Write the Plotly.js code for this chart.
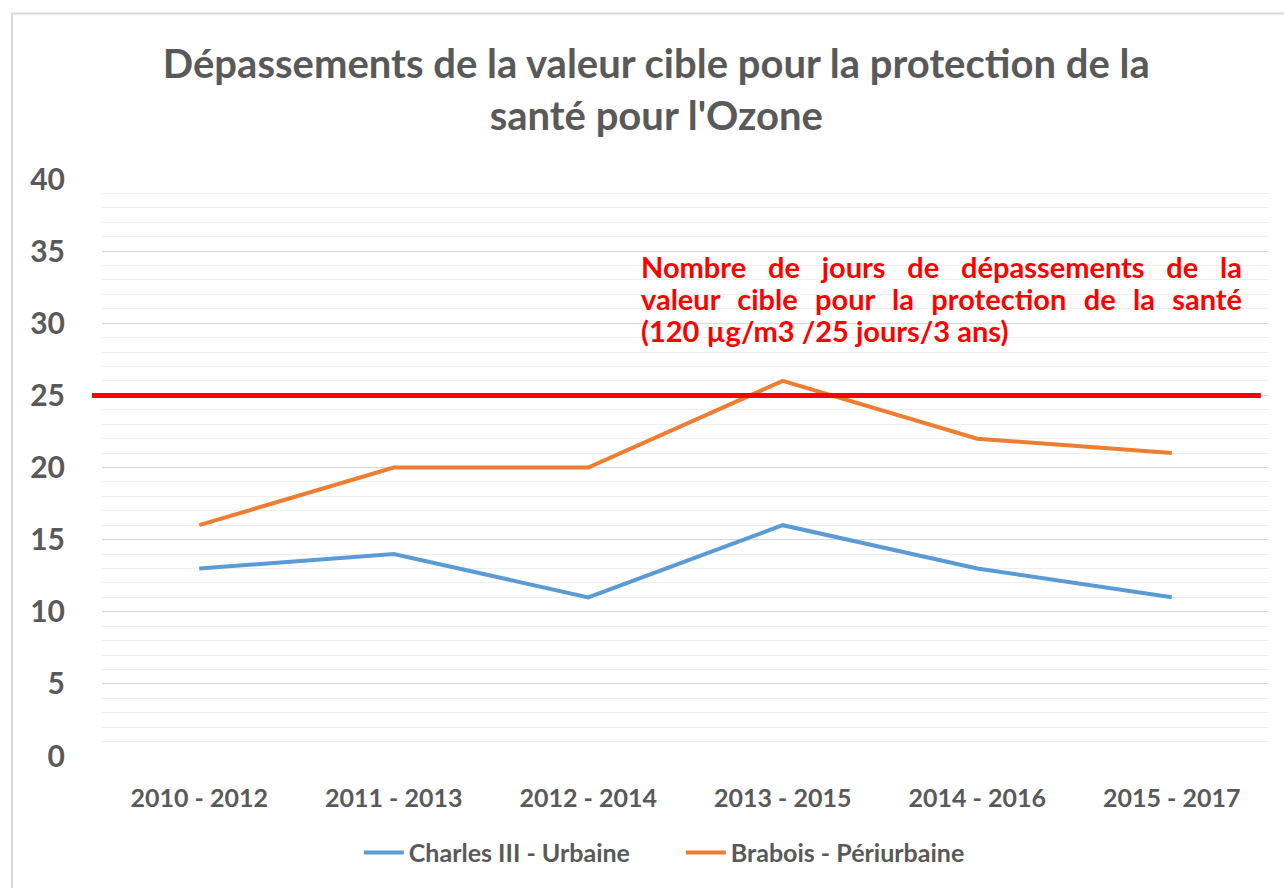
<!DOCTYPE html>
<html><head><meta charset="utf-8">
<script src="https://cdn.plot.ly/plotly-3.0.1.min.js"></script>
<style>body{margin:0;background:#fff}#chart{width:1284px;height:888px}</style>
</head><body><div id="chart"></div>
<script>
const periods = ['2010 - 2012', '2011 - 2013', '2012 - 2014', '2013 - 2015', '2014 - 2016', '2015 - 2017'];
const charlesIII = [13, 14, 11, 16, 13, 11];
const brabois = [16, 20, 20, 26, 22, 21];
const seriesNames = ['Charles III - Urbaine', 'Brabois - Périurbaine'];
const targetValue = 25;
const yTickValues = [0, 5, 10, 15, 20, 25, 30, 35, 40];
const titleText = "Dépassements de la valeur cible pour la protection de la<br>santé pour l'Ozone";
const noteLines = ['Nombre de jours de dépassements de la', 'valeur cible pour la protection de la santé', '(120 µg/m3 /25 jours/3 ans)'];

const FONT = 'Lato, "Open Sans", sans-serif';
const GREY = '#595959';

const data = [
  {x: periods, y: charlesIII, name: seriesNames[0], type: 'scatter', mode: 'lines',
   line: {color: '#5B9BD5', width: 4}},
  {x: periods, y: brabois, name: seriesNames[1], type: 'scatter', mode: 'lines',
   line: {color: '#ED7D31', width: 4}}
];

const noteAnnotations = noteLines.map(function (txt, i) {
  return {text: txt, xref: 'paper', yref: 'paper', x: 0.461, y: (758 - (267 + i * 32)) / 579,
          xanchor: 'left', yanchor: 'middle', align: 'left',
          showarrow: false, borderpad: 0,
          font: {family: FONT, size: 29, color: '#FF0000', weight: 'bold'}};
});

const layout = {
  width: 1284, height: 888,
  margin: {l: 102, r: 15, t: 179, b: 130},
  paper_bgcolor: '#fff', plot_bgcolor: '#fff',
  font: {family: FONT, color: GREY},
  title: {text: titleText, font: {family: FONT, size: 40, color: GREY, weight: 'bold'},
          x: 0.475, xref: 'paper', y: 0.912, yref: 'container', yanchor: 'middle'},
  xaxis: {type: 'category', range: [-0.5, 5.5], showgrid: false, zeroline: false, showline: false,
          ticks: 'outside', ticklen: 20, tickcolor: 'rgba(0,0,0,0)',
          tickfont: {family: FONT, size: 25, color: GREY, weight: 'bold'}, fixedrange: true},
  yaxis: {range: [0, 40], tickvals: yTickValues, showgrid: true, gridcolor: '#d9d9d9', gridwidth: 1,
          zeroline: false, showline: false, ticks: 'outside', ticklen: 30, tickcolor: 'rgba(0,0,0,0)',
          minor: {dtick: 1, showgrid: true, gridcolor: '#efefef', gridwidth: 1, ticks: ''},
          tickfont: {family: FONT, size: 30, color: GREY, weight: 'bold'}, fixedrange: true},
  showlegend: true,
  legend: {orientation: 'h', x: 0.496, xanchor: 'center', y: -0.1675, yanchor: 'middle',
           font: {family: FONT, size: 25, color: GREY, weight: 'bold'}, itemwidth: 40,
           entrywidth: 267, entrywidthmode: 'pixels'},
  shapes: [
    {type: 'line', xref: 'paper', yref: 'y', x0: -0.0086, x1: 0.993, y0: targetValue, y1: targetValue,
     line: {color: '#FF0000', width: 5}},
    {type: 'rect', xref: 'paper', yref: 'paper', x0: -0.0771, x1: 1.03, y0: -0.25, y1: 1.2867,
     line: {color: '#d9d9d9', width: 2}, fillcolor: 'rgba(0,0,0,0)', layer: 'below'}
  ],
  annotations: noteAnnotations
};

Plotly.newPlot('chart', data, layout, {staticPlot: true}).then(function (gd) {
  const targetWidth = 601;
  const texts = gd.querySelectorAll('.annotation-text');
  for (let i = 0; i < 2 && i < texts.length; i++) {
    const t = texts[i];
    const w = t.getComputedTextLength();
    const n = (t.textContent.match(/ /g) || []).length;
    if (n > 0 && w < targetWidth) t.style.wordSpacing = ((targetWidth - w) / n) + 'px';
  }
});
</script>
</body></html>
